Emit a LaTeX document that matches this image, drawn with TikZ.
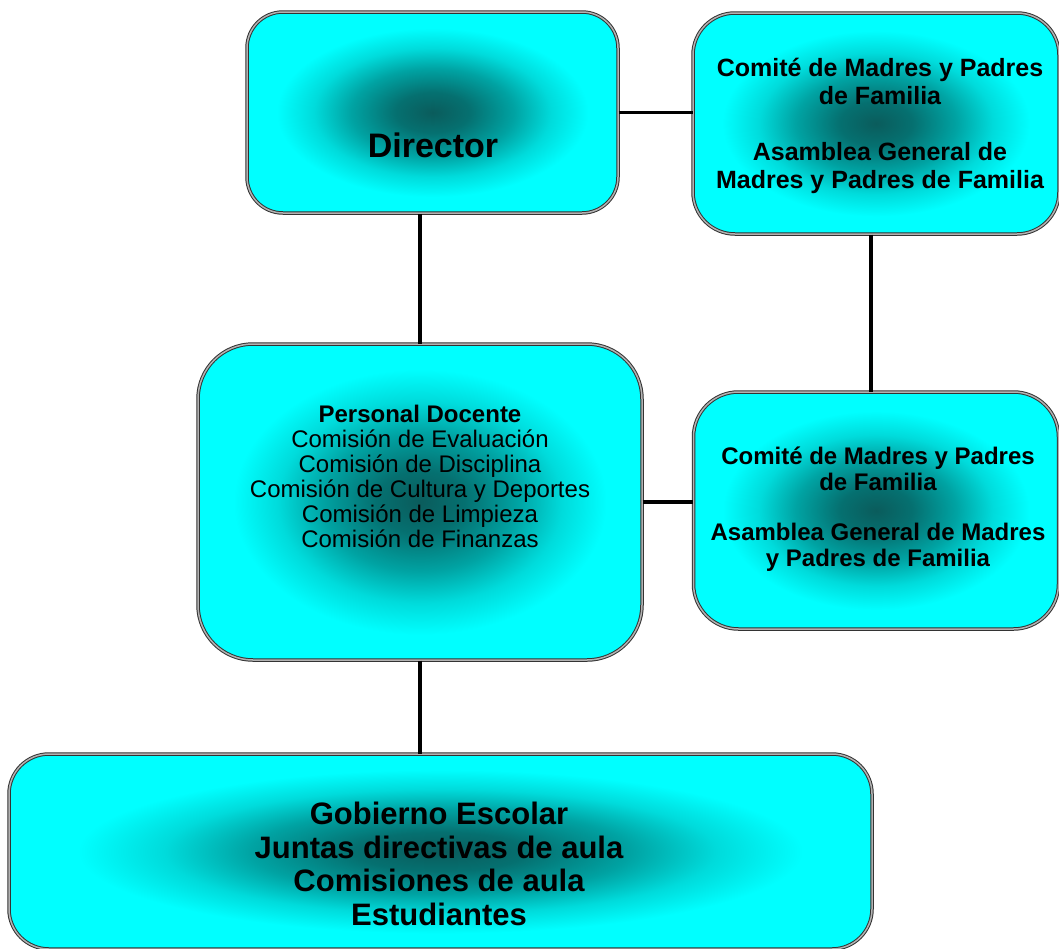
\documentclass[tikz,border=0pt]{standalone}
\usepackage{fontspec}
\setmainfont{Liberation Sans}
\usetikzlibrary{positioning,calc}

\definecolor{glowdark}{rgb}{0.04,0.36,0.36}
\definecolor{glowdeep}{rgb}{0.02,0.44,0.44}
\definecolor{glowmid}{rgb}{0,0.64,0.64}
\definecolor{glowlight}{rgb}{0,0.86,0.86}
\pgfdeclareradialshading{glow}{\pgfpoint{0bp}{0bp}}{color(0bp)=(glowdark); color(5bp)=(glowdeep); color(11bp)=(glowmid); color(16bp)=(glowlight); color(21bp)=(cyan); color(50bp)=(cyan)}

\tikzset{
	orgbox/.style={rectangle, shade, shading=glow, draw=black!80, double=black!30, double distance=1.5pt, line width=1pt},
	orgtext/.style={align=center, inner sep=0pt, text=black},
	link/.style={line width=3.5pt, black},
}

\begin{document}
\begin{tikzpicture}[x=1pt, y=-1pt]
	\useasboundingbox (0,0) rectangle (1059,948);

	\node[orgbox, minimum width=371pt, minimum height=201pt, rounded corners=36pt] (dir) at (432.5,112.5) {};
	\node[orgbox, minimum width=366pt, minimum height=221pt, rounded corners=42pt, right = 74pt of dir, yshift=-11pt] (com1) {};

	\node[orgbox, minimum width=444pt, minimum height=316pt, rounded corners=55pt, below = 130pt of dir, xshift=-12.5pt] (pers) {};
	\node[orgbox, minimum width=365pt, minimum height=237pt, rounded corners=45pt, below = 157pt of com1] (com2) {};

	\node[orgbox, minimum width=863pt, minimum height=195pt, rounded corners=40pt, below = 93pt of pers, xshift=20.5pt] (gob) {};

	\node[orgtext, font=\fontsize{34}{40}\selectfont\bfseries] (dirt) at ($(dir)+(0.5,32.5)$) {Director};
	\node[orgtext, font=\fontsize{25}{28}\selectfont\bfseries] (com1t) at ($(com1)+(4,2.5)$) {Comité de Madres y Padres\\de Familia\\[28pt]Asamblea General de\\Madres y Padres de Familia};
	\node[orgtext, font=\fontsize{24}{25}\selectfont] (perst) at ($(pers)+(0,-25.5)$) {\textbf{Personal Docente}\\Comisión de Evaluación\\Comisión de Disciplina\\Comisión de Cultura y Deportes\\Comisión de Limpieza\\Comisión de Finanzas};
	\node[orgtext, font=\fontsize{24}{26}\selectfont\bfseries] (com2t) at ($(com2)+(2,-1.5)$) {Comité de Madres y Padres\\de Familia\\[24pt]Asamblea General de Madres\\y Padres de Familia};
	\node[orgtext, font=\fontsize{31}{33.5}\selectfont\bfseries] (gobt) at ($(gob)+(-1.5,12.5)$) {Gobierno Escolar\\Juntas directivas de aula\\Comisiones de aula\\Estudiantes};

	\draw[link] (pers.north) -- (pers.north |- dir.south);
	\draw[link] (dir.east) -- (dir.east -| com1.west);
	\draw[link] ([xshift=-5pt]com1.south) -- ([xshift=-5pt]com2.north);
	\draw[link] (pers.east) -- (pers.east -| com2.west);
	\draw[link] (pers.south) -- (pers.south |- gob.north);
\end{tikzpicture}
\end{document}
